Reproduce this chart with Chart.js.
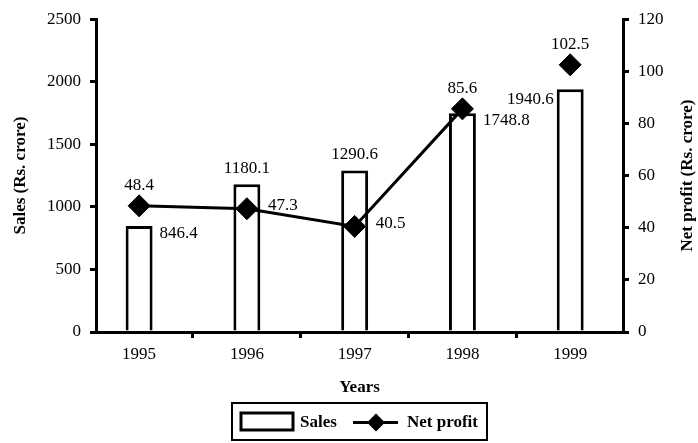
<!DOCTYPE html>
<html>
<head>
<meta charset="utf-8">
<script src="https://cdn.jsdelivr.net/npm/chart.js@4.4.0/dist/chart.umd.min.js"></script>
<style>
  html, body { margin: 0; padding: 0; background: #fff; }
</style>
</head>
<body>
<canvas id="chart" width="698" height="443"></canvas>
<script>
const years = [1995, 1996, 1997, 1998, 1999];
const sales = [846.4, 1180.1, 1290.6, 1748.8, 1940.6];
const netProfit = [48.4, 47.3, 40.5, 85.6, 102.5];
const salesTicks = [0, 500, 1000, 1500, 2000, 2500];
const profitTicks = [0, 20, 40, 60, 80, 100, 120];

// where each value label sits relative to its mark
const salesLabelPos = ['right', 'top', 'top', 'right', 'left'];
const profitLabelPos = ['top', 'right', 'right', 'top', 'top'];

const serif = '"Liberation Serif", "Times New Roman", serif';

// x axis: year ticks plus small marks half way between years
const xTicks = [];
years.forEach((yr, i) => {
    xTicks.push(yr);
    if (i < years.length - 1) xTicks.push(yr + 0.5);
});

const valueLabels = {
    id: 'valueLabels',
    afterDatasetsDraw(chart) {
        const ctx = chart.ctx;
        ctx.save();
        ctx.font = '17px ' + serif;
        ctx.fillStyle = '#000';
        ctx.textBaseline = 'middle';
        chart.data.datasets.forEach((ds, di) => {
            const meta = chart.getDatasetMeta(di);
            meta.data.forEach((el, i) => {
                const pos = ds.labelPos[i];
                const text = String(ds.data[i].y);
                let x = el.x, y = el.y;
                if (meta.type === 'bar') {
                    const half = el.width / 2;
                    if (pos === 'right') { ctx.textAlign = 'left'; x += half + 7; y += 7; }
                    else if (pos === 'left') { ctx.textAlign = 'right'; x -= half + 3; y += 10; }
                    else { ctx.textAlign = 'center'; y -= 16; }
                } else {
                    if (pos === 'right') { ctx.textAlign = 'left'; x += 21; y -= 3; }
                    else { ctx.textAlign = 'center'; y -= 20; }
                }
                ctx.fillText(text, x, y);
            });
        });
        ctx.restore();
    }
};

// right-hand title reads bottom to top, and the boxed legend under the axis
const extras = {
    id: 'extras',
    afterDraw(chart) {
        const ctx = chart.ctx;
        const area = chart.chartArea;
        ctx.save();
        ctx.fillStyle = '#000';
        ctx.strokeStyle = '#000';
        ctx.font = 'bold 17px ' + serif;
        ctx.textAlign = 'center';
        ctx.textBaseline = 'middle';
        ctx.translate(chart.width - 10, (area.top + area.bottom) / 2);
        ctx.rotate(-Math.PI / 2);
        ctx.fillText('Net profit (Rs. crore)', 0, 0);
        ctx.restore();

        // legend box
        ctx.save();
        const w = 255, h = 37;
        const left = (area.left + area.right) / 2 - w / 2;
        const top = chart.height - 40;
        ctx.lineWidth = 2;
        ctx.strokeStyle = '#000';
        ctx.strokeRect(left, top, w, h);
        ctx.lineWidth = 3;
        ctx.strokeRect(left + 9, top + 10, 52, 17);
        ctx.font = 'bold 17px ' + serif;
        ctx.fillStyle = '#000';
        ctx.textBaseline = 'middle';
        ctx.textAlign = 'left';
        ctx.fillText('Sales', left + 68, top + h / 2 + 1);
        const cy = top + h / 2 + 1;
        ctx.beginPath();
        ctx.moveTo(left + 121, cy);
        ctx.lineTo(left + 166, cy);
        ctx.stroke();
        const cx = left + 144, r = 9;
        ctx.beginPath();
        ctx.moveTo(cx - r, cy);
        ctx.lineTo(cx, cy - r);
        ctx.lineTo(cx + r, cy);
        ctx.lineTo(cx, cy + r);
        ctx.closePath();
        ctx.fill();
        ctx.fillText('Net profit', left + 175, cy);
        ctx.restore();
    }
};

new Chart(document.getElementById('chart'), {
    type: 'bar',
    data: {
        datasets: [{
            type: 'line',
            label: 'Net profit',
            data: years.map((yr, i) => ({ x: yr, y: netProfit[i] })),
            labelPos: profitLabelPos,
            xAxisID: 'x',
            yAxisID: 'y2',
            order: 0,
            borderColor: '#000',
            borderWidth: 3,
            pointStyle: 'rectRot',
            pointRadius: 11,
            pointBackgroundColor: '#000',
            pointBorderColor: '#000',
            pointBorderWidth: 1,
            // the 1999 point stands on its own
            segment: {
                borderColor: c => c.p1DataIndex === years.length - 1 ? 'rgba(0,0,0,0)' : '#000'
            }
        }, {
            type: 'bar',
            label: 'Sales',
            data: years.map((yr, i) => ({ x: yr, y: sales[i] })),
            labelPos: salesLabelPos,
            xAxisID: 'x',
            yAxisID: 'y',
            order: 1,
            backgroundColor: '#fff',
            borderColor: '#000',
            borderWidth: 3,
            barPercentage: 0.5,
            categoryPercentage: 1
        }]
    },
    options: {
        responsive: false,
        animation: false,
        events: [],
        layout: { padding: { top: 14, left: 0, right: 0, bottom: 0 } },
        plugins: {
            legend: { display: false },
            tooltip: { enabled: false }
        },
        scales: {
            x: {
                type: 'linear',
                min: 1994.6,
                max: 1999.49,
                offset: false,
                afterBuildTicks: s => { s.ticks = xTicks.map(v => ({ value: v })); },
                afterFit: s => { s.height = 111; },
                border: { color: '#000', width: 3 },
                grid: {
                    offset: false,
                    drawOnChartArea: false,
                    tickLength: 6,
                    lineWidth: 3,
                    color: c => Number.isInteger(c.tick.value) ? 'rgba(0,0,0,0)' : '#000'
                },
                ticks: {
                    autoSkip: false,
                    maxRotation: 0,
                    padding: 6,
                    color: '#000',
                    font: { family: serif, size: 17 },
                    callback: v => Number.isInteger(v) ? String(v) : ''
                },
                title: {
                    display: true,
                    text: 'Years',
                    color: '#000',
                    font: { family: serif, size: 17, weight: 'bold' },
                    padding: { top: 0, bottom: 45 }
                }
            },
            y: {
                type: 'linear',
                position: 'left',
                min: 0,
                max: 2500,
                afterBuildTicks: s => { s.ticks = salesTicks.map(v => ({ value: v })); },
                afterFit: s => { s.width = 96; },
                border: { color: '#000', width: 3 },
                grid: { drawOnChartArea: false, tickLength: 6, lineWidth: 3, color: '#000' },
                ticks: {
                    padding: 9,
                    color: '#000',
                    font: { family: serif, size: 17 },
                    callback: v => String(v)
                },
                title: {
                    display: true,
                    text: 'Sales (Rs. crore)',
                    color: '#000',
                    font: { family: serif, size: 17, weight: 'bold' },
                    padding: { top: 10, bottom: 0 }
                }
            },
            y2: {
                type: 'linear',
                position: 'right',
                min: 0,
                max: 120,
                afterBuildTicks: s => { s.ticks = profitTicks.map(v => ({ value: v })); },
                afterFit: s => { s.width = 75; },
                border: { color: '#000', width: 3 },
                grid: { drawOnChartArea: false, tickLength: 6, lineWidth: 3, color: '#000' },
                ticks: {
                    padding: 9,
                    color: '#000',
                    font: { family: serif, size: 17 },
                    callback: v => String(v)
                }
            }
        }
    },
    plugins: [valueLabels, extras]
});
</script>
</body>
</html>
